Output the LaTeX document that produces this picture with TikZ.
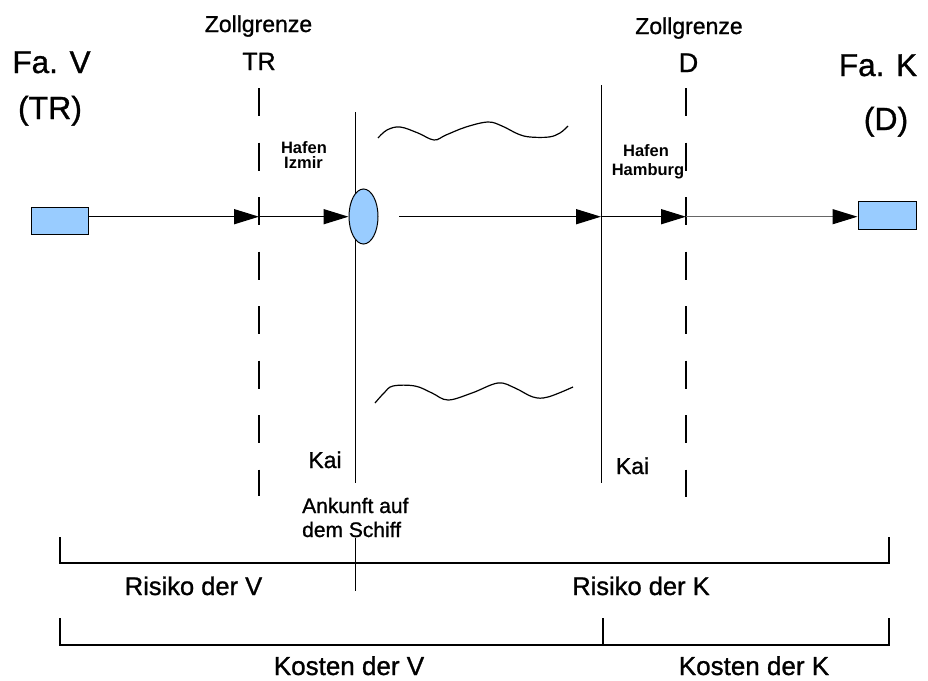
\documentclass[tikz,border=0pt]{standalone}
\usepackage{fontspec}
\setmainfont{Liberation Sans}[FakeBold=1.0]
\newfontfamily\heavy{Liberation Sans Bold}
\usetikzlibrary{arrows.meta,shapes.geometric}
\definecolor{boxblue}{HTML}{99CCFF}
\newcommand{\fs}[1]{\fontsize{#1}{#1}\selectfont}
\tikzset{
  lbl/.style={inner sep=0pt, anchor=base},
  lblw/.style={inner sep=0pt, anchor=base west},
  goods/.style={draw, fill=boxblue, line width=1pt, minimum width=57pt, minimum height=27pt, inner sep=0pt},
  port/.style={ellipse, draw, fill=boxblue, line width=1pt, minimum width=29pt, minimum height=55pt, inner sep=0pt},
  flow/.style={line width=1.5pt, -{Triangle[length=25pt,width=15pt]}},
  flowthin/.style={line width=1.2pt, draw=black!60, -{Triangle[length=25pt,width=15pt,color=black]}},
  border/.style={line width=1.5pt, dash pattern=on 28pt off 26.5pt},
  quay/.style={line width=1pt},
  brack/.style={line width=1.2pt},
  wave/.style={line width=1.2pt, smooth, tension=0.6}
}
\begin{document}
\begin{tikzpicture}[x=1pt,y=-1pt]
\useasboundingbox (0,0) rectangle (928,680);
% texts
\node[lbl] (fav) at (51.5,73) {\fs{31.5}Fa. V};
\node[lbl] (fatr) at (50,119) {\fs{32}(TR)};
\node[lbl] (fak) at (878,76) {\fs{31.5}Fa. K};
\node[lbl] (fad) at (886,130) {\fs{32}(D)};
\node[lbl] (zg1) at (258.5,32) {\fs{23}Zollgrenze};
\node[lbl] (ztr) at (259,70) {\fs{25}TR};
\node[lbl] (zg2) at (689,34) {\fs{23}Zollgrenze};
\node[lbl] (zd) at (688.5,72) {\fs{27}D};
\node[lbl] (hi1) at (304,153) {\heavy\fs{16.5}Hafen};
\node[lbl] (hi2) at (303.5,168) {\heavy\fs{16.5}Izmir};
\node[lbl] (hh1) at (646,156) {\heavy\fs{16.5}Hafen};
\node[lbl] (hh2) at (648,175) {\heavy\fs{16.5}Hamburg};
\node[lbl] (kai1) at (325,468) {\fs{23}Kai};
\node[lbl] (kai2) at (632.5,474) {\fs{23}Kai};
\node[lblw] (ank1) at (302,513) {\fs{21}Ankunft auf};
\node[lblw] (ank2) at (302,537) {\fs{21}dem Schiff};
\node[lbl] (rv) at (193.5,595) {\fs{25.5}Risiko der V};
\node[lbl] (rk) at (641,595) {\fs{25.5}Risiko der K};
\node[lbl] (kv) at (349,675) {\fs{26}Kosten der V};
\node[lbl] (kk) at (754,675) {\fs{26}Kosten der K};
% coordinates of lines
\coordinate (trT) at (259,88);  \coordinate (trB) at (259,496);
\coordinate (dT) at (686,88);   \coordinate (dB) at (686,497);
\coordinate (q1T) at (355,112); \coordinate (q1B) at (355,483);
\coordinate (s1T) at (355,538); \coordinate (s1B) at (355,591);
\coordinate (q2T) at (601,85);  \coordinate (q2B) at (601,483);
% vertical lines
\draw[border] (trT) -- (trB);
\draw[border] (dT) -- (dB);
\draw[quay] (q1T) -- (q1B);
\draw[quay] (s1T) -- (s1B);
\draw[quay] (q2T) -- (q2B);
% goods and port
\node[goods] (r1) at (59.5,220.5) {};
\node[goods, minimum width=58pt, minimum height=28pt] (r2) at (887,215) {};
\node[port] (ell) at (363.5,216.5) {};
% flow
\coordinate (ftr) at (259,216.7);
\coordinate (fship) at (399,216.7);
\coordinate (fq2) at (601,216.7);
\coordinate (fd) at (686,216.7);
\draw[flow] (r1.east |- ftr) -- (ftr);
\draw[flow] (ftr) -- (ell.west |- ftr);
\draw[flow] (fship) -- (fq2);
\draw[flow] (fq2) -- (fd);
\draw[flowthin] (fd) -- (r2.west |- fd);
% waves
\draw[wave] plot coordinates {(378,138) (387,130) (400,127) (418,133) (434,140) (446,135) (466,127) (488,122) (502,126) (518,134) (530,137) (549,137) (560,133) (568,126)};
\draw[wave] plot coordinates {(375,403) (384,393) (393,386) (415,386) (432,393) (448,400) (472,393) (498,383) (515,388) (533,397) (548,397) (573,387)};
% brackets
\coordinate (bL1) at (60,537); \coordinate (bL2) at (60,563);
\coordinate (bR1) at (889,537); \coordinate (bR2) at (889,563);
\draw[brack] (bL1) -- (bL2) -- (bR2) -- (bR1);
\coordinate (cL1) at (60,618); \coordinate (cL2) at (60,645);
\coordinate (cR1) at (889,618); \coordinate (cR2) at (889,645);
\coordinate (cM1) at (603,618); \coordinate (cM2) at (603,645);
\draw[brack] (cL1) -- (cL2) -- (cR2) -- (cR1);
\draw[brack] (cM1) -- (cM2);
\end{tikzpicture}
\end{document}
